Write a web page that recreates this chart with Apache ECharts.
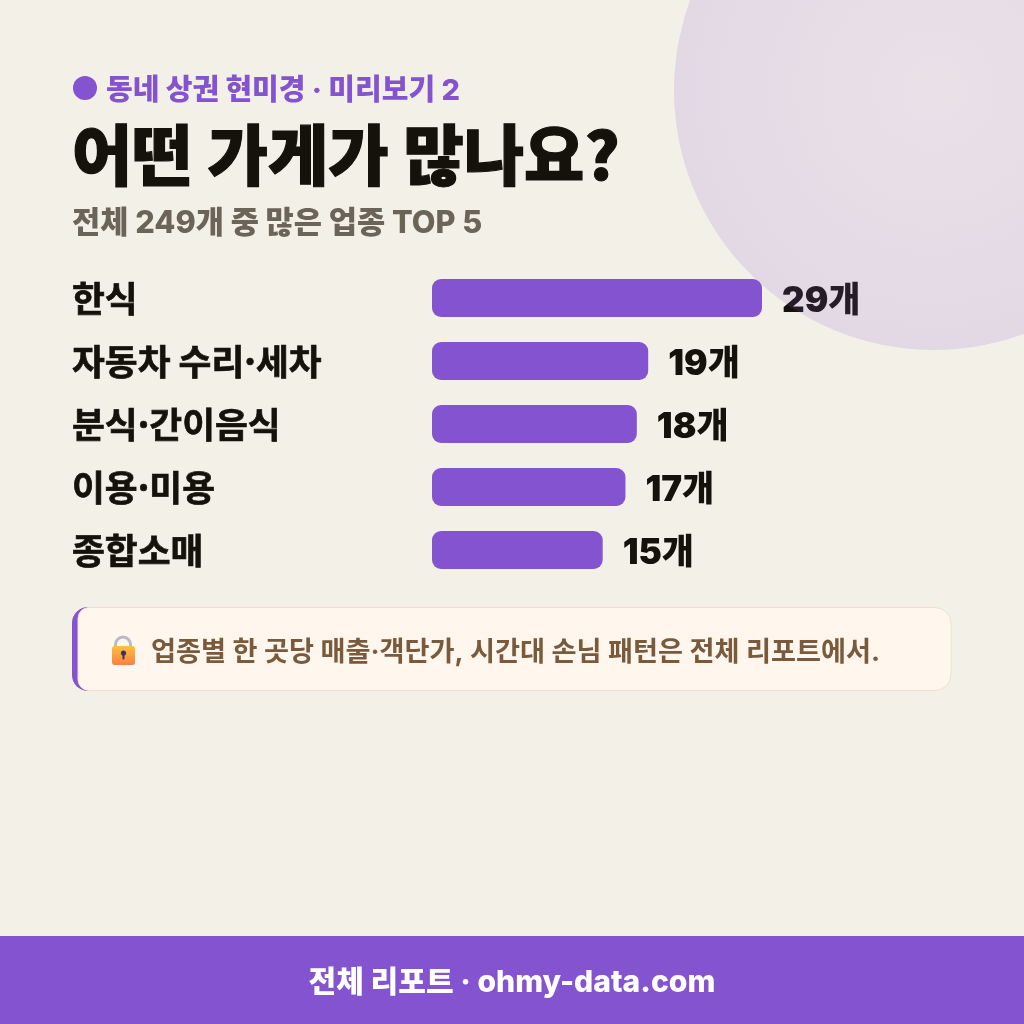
<!DOCTYPE html>
<html lang="ko">
<head>
<meta charset="utf-8">
<title>어떤 가게가 많나요?</title>
<style>
html,body{margin:0;padding:0;background:#f3f0e8}
#chart{width:1024px;height:1024px}
</style>
<script src="https://cdn.jsdelivr.net/npm/echarts@6/dist/echarts.min.js"></script>
</head>
<body>
<div id="chart"></div>
<script>
// Top five business types in the neighbourhood
const categories = ['한식', '자동차 수리·세차', '분식·간이음식', '이용·미용', '종합소매'];
const counts = [29, 19, 18, 17, 15];

const eyebrowText = '동네 상권 현미경 · 미리보기 2';
const headlineText = '어떤 가게가 많나요?';
const subheadText = '전체 249개 중 많은 업종 TOP 5';
const noteText = '업종별 한 곳당 매출·객단가, 시간대 손님 패턴은 전체 리포트에서.';
const footerText = '전체 리포트 · ohmy-data.com';

const PURPLE = '#8353d0';
const INK = '#15120c';
const FONT = 'Inter, "Noto Sans CJK KR", sans-serif';
const HANGUL = '"Noto Sans CJK KR", sans-serif';

const chart = echarts.init(document.getElementById('chart'), null, {renderer: 'canvas'});

chart.setOption({
  animation: false,
  backgroundColor: '#f3f0e8',
  grid: {left: 432, top: 266.5, width: 330, height: 315, containLabel: false},
  xAxis: {type: 'value', min: 0, max: 29, show: false},
  yAxis: {
    type: 'category',
    inverse: true,
    data: categories,
    axisLine: {show: false},
    axisTick: {show: false},
    axisLabel: {
      align: 'left',
      margin: 360,
      color: INK,
      fontFamily: HANGUL,
      fontWeight: 700,
      fontSize: 35.7,
      textBorderColor: INK,
      textBorderWidth: 0.7
    }
  },
  series: [{
    type: 'bar',
    data: counts,
    barWidth: 38,
    z: 2,
    itemStyle: {color: PURPLE, borderRadius: 9},
    label: {
      show: true,
      position: 'right',
      distance: 20,
      offset: [0, 3],
      formatter: '{c}개',
      color: INK,
      fontFamily: FONT,
      fontWeight: 900,
      fontSize: 35
    }
  }],
  graphic: [
    // translucent disc laid over the top-right corner
    {
      type: 'circle', silent: true, z: 50,
      shape: {cx: 934, cy: 90, r: 260},
      style: {
        fill: {
          type: 'radial', x: 0.5, y: 0.5, r: 0.5,
          colorStops: [
            {offset: 0, color: 'rgba(165,110,232,0.12)'},
            {offset: 1, color: 'rgba(131,83,208,0.15)'}
          ]
        }
      }
    },
    // eyebrow
    {type: 'circle', z: 10, shape: {cx: 85, cy: 88, r: 12}, style: {fill: PURPLE}},
    {type: 'text', z: 10, x: 106, y: 91,
      style: {text: eyebrowText, fill: PURPLE, font: '800 29px ' + FONT, textVerticalAlign: 'middle'}},
    // headline with a thin outline to reach its heavy weight
    {type: 'text', z: 10, x: 72, y: 155, scaleX: 0.993,
      style: {text: headlineText, fill: INK, stroke: INK, lineWidth: 1.2, font: '900 66px ' + HANGUL, textVerticalAlign: 'middle'}},
    // subheading
    {type: 'text', z: 10, x: 72, y: 224,
      style: {text: subheadText, fill: '#6b6459', font: '800 30.7px ' + FONT, textVerticalAlign: 'middle'}},
    // callout box with a purple left edge
    {type: 'rect', z: 8, shape: {x: 72, y: 607, width: 60, height: 84, r: 16}, style: {fill: PURPLE}},
    {type: 'rect', z: 9, shape: {x: 78, y: 607.5, width: 873, height: 83, r: [11, 16, 16, 11]},
      style: {fill: '#fff7ed', stroke: '#f2e0c9', lineWidth: 1}},
    // padlock icon
    {type: 'rect', z: 10, shape: {x: 115.5, y: 637, width: 15, height: 20, r: [7.5, 7.5, 0, 0]},
      style: {fill: 'none', stroke: '#bdb8c4', lineWidth: 3}},
    {type: 'rect', z: 11, shape: {x: 112, y: 646, width: 23, height: 19, r: 3},
      style: {fill: {type: 'linear', x: 0, y: 0, x2: 0, y2: 1,
        colorStops: [{offset: 0, color: '#fdc13e'}, {offset: 1, color: '#fb7f45'}]}}},
    {type: 'circle', z: 12, shape: {cx: 123.5, cy: 653, r: 2.6}, style: {fill: '#3b3556'}},
    {type: 'rect', z: 12, shape: {x: 122.5, y: 653, width: 2, height: 6.5, r: 1}, style: {fill: '#3b3556'}},
    // callout text
    {type: 'text', z: 10, x: 151, y: 652.5,
      style: {text: noteText, fill: '#7a5a3c', font: '700 27.2px ' + FONT, textVerticalAlign: 'middle'}},
    // footer band
    {type: 'rect', z: 10, shape: {x: 0, y: 936, width: 1024, height: 88}, style: {fill: PURPLE}},
    {type: 'text', z: 11, x: 512, y: 982.5,
      style: {text: footerText, fill: '#ffffff', font: '800 30.1px ' + FONT, textAlign: 'center', textVerticalAlign: 'middle'}}
  ]
});
</script>
</body>
</html>
